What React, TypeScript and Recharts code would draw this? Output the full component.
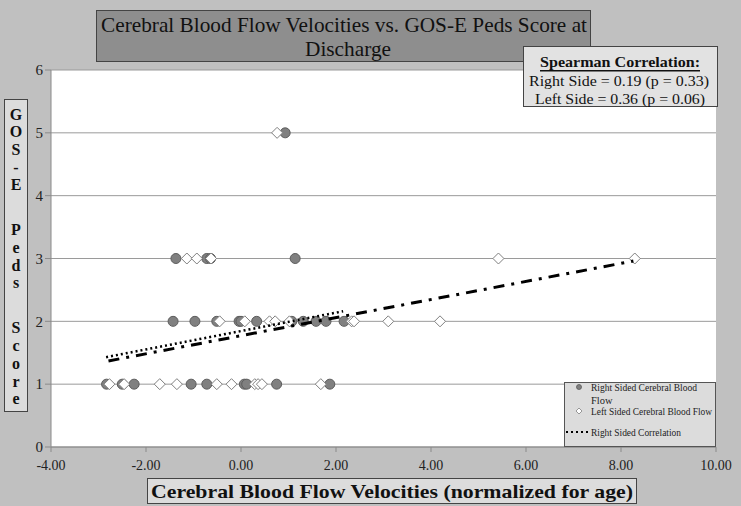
import { CartesianGrid, Scatter, ScatterChart, XAxis, YAxis } from "recharts";

const W = 741;
const H = 506;

// right sided flow (grey circles)
const rightSided = [
  { x: -2.83, y: 1 }, { x: -2.5, y: 1 }, { x: -2.25, y: 1 }, { x: -1.05, y: 1 }, { x: -0.72, y: 1 },
  { x: 0.07, y: 1 }, { x: 0.12, y: 1 }, { x: 0.75, y: 1 }, { x: 1.87, y: 1 },
  { x: -1.43, y: 2 }, { x: -0.97, y: 2 }, { x: -0.51, y: 2 }, { x: -0.04, y: 2 }, { x: 0.0, y: 2 },
  { x: 0.33, y: 2 }, { x: 1.07, y: 2 }, { x: 1.31, y: 2 }, { x: 1.58, y: 2 }, { x: 1.79, y: 2 }, { x: 2.17, y: 2 },
  { x: -1.37, y: 3 }, { x: -0.72, y: 3 }, { x: -0.64, y: 3 }, { x: 1.14, y: 3 },
  { x: 0.93, y: 5 },
];

// left sided flow (white diamonds)
const leftSided = [
  { x: -2.77, y: 1 }, { x: -2.46, y: 1 }, { x: -1.71, y: 1 }, { x: -1.35, y: 1 }, { x: -0.51, y: 1 },
  { x: -0.2, y: 1 }, { x: 0.29, y: 1 }, { x: 0.36, y: 1 }, { x: 0.44, y: 1 }, { x: 1.68, y: 1 },
  { x: -0.45, y: 2 }, { x: 0.08, y: 2 }, { x: 0.6, y: 2 }, { x: 0.72, y: 2 }, { x: 1.02, y: 2 },
  { x: 2.33, y: 2 }, { x: 2.38, y: 2 }, { x: 3.1, y: 2 }, { x: 4.19, y: 2 },
  { x: -1.14, y: 3 }, { x: -0.93, y: 3 }, { x: -0.63, y: 3 }, { x: 5.42, y: 3 }, { x: 8.29, y: 3 },
  { x: 0.76, y: 5 },
];

const rightTrend = [
  { x: -2.84, y: 1.43 },
  { x: 2.15, y: 2.16 },
];

const leftTrend = [
  { x: -2.79, y: 1.37 },
  { x: 8.26, y: 2.96 },
];

const xTicks = [-4, -2, 0, 2, 4, 6, 8, 10];
const yTicks = [0, 1, 2, 3, 4, 5, 6];

const yLabelWords = ["GOS-E", "Peds", "Score"];

const serif = "'Liberation Serif', 'Times New Roman', serif";

const Circle = (props: any) => (
  <circle cx={props.cx} cy={props.cy} r={5} fill="#808080" stroke="#5c5c5c" strokeWidth={1} />
);

const Diamond = (props: any) => {
  const { cx, cy } = props;
  const s = 5.5;
  return (
    <path
      d={`M${cx},${cy - s}L${cx + s},${cy}L${cx},${cy + s}L${cx - s},${cy}Z`}
      fill="#fff"
      stroke="#808080"
      strokeWidth={1}
    />
  );
};

const NoDot = () => <g />;

const XTick = (props: any) => {
  const { x, y, payload } = props;
  return (
    <text x={x} y={y + 11} textAnchor="middle" dominantBaseline="central" fontFamily={serif} fontSize={14} fill="#222">
      {Number(payload.value).toFixed(2)}
    </text>
  );
};

function YLabel() {
  const letters: { ch: string; y: number }[] = [];
  let y = 114;
  yLabelWords.forEach((w, wi) => {
    w.split("").forEach((ch, ci) => {
      letters.push({ ch, y });
      if (ci < w.length - 1) y += 17.7;
    });
    if (wi < yLabelWords.length - 1) y += 45;
  });
  return (
    <g>
      <rect x={4.5} y={99.5} width={23} height={312} fill="#dcdcdc" stroke="#444" />
      {letters.map((l, i) => (
        <text key={i} x={16} y={l.y} textAnchor="middle" dominantBaseline="central" fontFamily={serif} fontWeight="bold" fontSize={16} fill="#111">
          {l.ch}
        </text>
      ))}
    </g>
  );
}

export default function App() {
  return (
    <div style={{ position: "absolute", left: 0, top: 0, width: W, height: H, background: "#c0c0c0" }}>
      <ScatterChart width={W} height={H} margin={{ top: 70, right: 25, bottom: 29, left: 21 }}>
        <CartesianGrid vertical={false} stroke="#9a9a9a" fill="#fff" fillOpacity={1} />
        <XAxis
          type="number"
          dataKey="x"
          domain={[-4, 10]}
          ticks={xTicks}
          height={30}
          tick={XTick}
          tickSize={5}
          stroke="#8a8a8a"
        />
        <YAxis
          type="number"
          dataKey="y"
          domain={[0, 6]}
          ticks={yTicks}
          width={30}
          tick={{ fontFamily: serif, fontSize: 15, fill: "#222" }}
          tickSize={6}
          stroke="#8a8a8a"
        />
        <Scatter data={rightSided} shape={Circle} isAnimationActive={false} />
        <Scatter data={leftSided} shape={Diamond} isAnimationActive={false} />
        <Scatter
          data={rightTrend}
          line={{ stroke: "#000", strokeWidth: 2.5, strokeDasharray: "2 3" }}
          lineType="joint"
          shape={NoDot}
          isAnimationActive={false}
        />
        <Scatter
          data={leftTrend}
          line={{ stroke: "#000", strokeWidth: 3, strokeDasharray: "11 7 3 7" }}
          lineType="joint"
          shape={NoDot}
          isAnimationActive={false}
        />
      </ScatterChart>

      <svg width={W} height={H} style={{ position: "absolute", left: 0, top: 0, pointerEvents: "none" }}>
        {/* title */}
        <rect x={96.5} y={10.5} width={494} height={51} fill="#8e8e8e" stroke="#444" />
        <text x={344} y={24} textAnchor="middle" dominantBaseline="central" fontFamily={serif} fontSize={22} fill="#111" textLength={486} lengthAdjust="spacingAndGlyphs">
          Cerebral Blood Flow Velocities vs. GOS-E Peds Score at
        </text>
        <text x={348} y={48} textAnchor="middle" dominantBaseline="central" fontFamily={serif} fontSize={22} fill="#111" textLength={86} lengthAdjust="spacingAndGlyphs">
          Discharge
        </text>

        {/* spearman box */}
        <rect x={523.5} y={46.5} width={194} height={60} fill="#e2e2e2" stroke="#444" />
        <text x={620} y={62} textAnchor="middle" dominantBaseline="central" fontFamily={serif} fontSize={15} fontWeight="bold" fill="#111" textDecoration="underline" textLength={160} lengthAdjust="spacingAndGlyphs">
          Spearman Correlation:
        </text>
        <text x={619} y={81} textAnchor="middle" dominantBaseline="central" fontFamily={serif} fontSize={15} fill="#111" textLength={180} lengthAdjust="spacingAndGlyphs">
          Right Side = 0.19 (p = 0.33)
        </text>
        <text x={620} y={99} textAnchor="middle" dominantBaseline="central" fontFamily={serif} fontSize={15} fill="#111" textLength={170} lengthAdjust="spacingAndGlyphs">
          Left Side = 0.36 (p = 0.06)
        </text>

        <YLabel />

        {/* x axis title */}
        <rect x={147.5} y={478.5} width={489} height={25} fill="#dcdcdc" stroke="#444" />
        <text x={392} y={491} textAnchor="middle" dominantBaseline="central" fontFamily={serif} fontSize={19} fontWeight="bold" fill="#111" textLength={482} lengthAdjust="spacingAndGlyphs">
          Cerebral Blood Flow Velocities (normalized for age)
        </text>

        {/* legend */}
        <rect x={564.5} y={382.5} width={151} height={64} fill="#dcdcdc" stroke="#555" />
        <circle cx={579} cy={387} r={2.5} fill="#808080" stroke="#5c5c5c" strokeWidth={0.8} />
        <text x={591} y={387} dominantBaseline="central" fontFamily={serif} fontSize={10.5} fill="#222" textLength={106} lengthAdjust="spacingAndGlyphs">
          Right Sided Cerebral Blood
        </text>
        <text x={591} y={400} dominantBaseline="central" fontFamily={serif} fontSize={10.5} fill="#222">
          Flow
        </text>
        <path d="M579,408L582,411L579,414L576,411Z" fill="#fff" stroke="#808080" strokeWidth={0.8} />
        <text x={591} y={411} dominantBaseline="central" fontFamily={serif} fontSize={10.5} fill="#222" textLength={121} lengthAdjust="spacingAndGlyphs">
          Left Sided Cerebral Blood Flow
        </text>
        <line x1={566} y1={432} x2={590} y2={432} stroke="#000" strokeWidth={2} strokeDasharray="2 3" />
        <text x={591} y={432} dominantBaseline="central" fontFamily={serif} fontSize={10.5} fill="#222" textLength={90} lengthAdjust="spacingAndGlyphs">
          Right Sided Correlation
        </text>
      </svg>
    </div>
  );
}
